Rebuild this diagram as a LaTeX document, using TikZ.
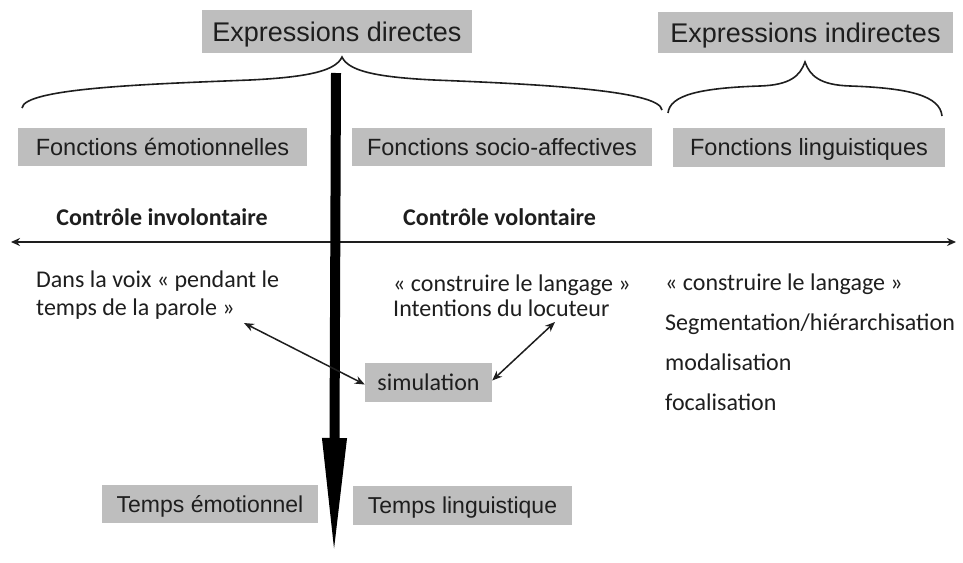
\documentclass[tikz,border=0pt]{standalone}
\usepackage{fontspec}
\setmainfont{Carlito}
\newfontfamily\arialf{Liberation Sans}
\usetikzlibrary{arrows.meta}
\definecolor{boxgray}{RGB}{190,190,190}
\definecolor{txt}{RGB}{30,30,30}
\tikzset{
  graybox/.style={fill=boxgray, draw=none, inner sep=0pt, text=txt, text depth=0pt, text height=16.8pt, font=\arialf\fontsize{23.5}{28}\selectfont},
  bigbox/.style={graybox, text height=19.3pt, font=\arialf\fontsize{27}{32}\selectfont},
  body/.style={inner sep=0pt, anchor=base west, text=txt, font=\fontsize{24}{29}\selectfont},
  boldlbl/.style={inner sep=0pt, anchor=base, text=txt, font=\bfseries\fontsize{24}{29}\selectfont},
  bracepath/.style={line width=1.6pt, draw=txt},
  thinarrow/.style={line width=1.5pt, draw=txt, {Stealth[length=10pt,width=8pt]}-{Stealth[length=10pt,width=8pt]}},
}
\begin{document}
\begin{tikzpicture}[x=1pt,y=-1pt]
\useasboundingbox (0,0) rectangle (963,562);
\fill[white] (0,0) rectangle (963,562);

% top boxes
\node[bigbox, minimum width=270pt, minimum height=43pt] (exdir) at (337,31.5) {Expressions directes};
\node[bigbox, minimum width=295pt, minimum height=41pt] (exind) at (805.5,32.5) {Expressions indirectes};

% braces
\coordinate (b1l) at (22,108);
\coordinate (b1t) at (342,57);
\coordinate (b1r) at (662,110);
\draw[bracepath] (b1l) .. controls (24,88) and (150,84) .. (250,80)
  .. controls (312,77) and (336,70) .. (b1t)
  .. controls (348,70) and (372,77) .. (434,80)
  .. controls (534,84) and (660,90) .. (b1r);
\coordinate (b2l) at (668,113);
\coordinate (b2t) at (805,62);
\coordinate (b2r) at (942,116);
\draw[bracepath] (b2l) .. controls (670,95) and (700,88) .. (760,86)
  .. controls (790,85) and (800,76) .. (b2t)
  .. controls (810,76) and (820,85) .. (850,86)
  .. controls (910,88) and (940,96) .. (b2r);

% function boxes
\node[graybox, minimum width=289pt, minimum height=38pt] (femo) at (162.5,147) {Fonctions émotionnelles};
\node[graybox, minimum width=300pt, minimum height=38pt] (fsoc) at (502,147) {Fonctions socio-affectives};
\node[graybox, minimum width=272pt, minimum height=39pt] (fling) at (809,147.5) {Fonctions linguistiques};

% control labels
\node[boldlbl] (cinv) at (162,225) {Contrôle involontaire};
\node[boldlbl, anchor=base west] (cvol) at (403,225) {Contrôle volontaire};

% horizontal axis
\coordinate (hl) at (11,242);
\coordinate (hr) at (956,242);
\draw[line width=1.8pt, draw=txt, {Stealth[length=9pt,width=8pt]}-{Stealth[length=9pt,width=8pt]}] (hl) -- (hr);

% vertical time arrow
\coordinate (vtop) at (336,73);
\coordinate (vtip) at (334,560);
\draw[line width=10pt, black, -{Triangle[length=122pt,width=22pt]}] (vtop) -- (vtip);

% left texts
\node[body] (d1) at (36,287) {Dans la voix « pendant le};
\node[body] (d2) at (36,315) {temps de la parole »};
% middle texts
\node[body] (m1) at (393,291) {« construire le langage »};
\node[body] (m2) at (393,316) {Intentions du locuteur};
% right texts
\node[body] (r1) at (665,290) {« construire le langage »};
\node[body] (r2) at (665,330) {Segmentation/hiérarchisation};
\node[body] (r3) at (665,370) {modalisation};
\node[body] (r4) at (665,410) {focalisation};

% simulation
\node[graybox, font=\fontsize{24}{29}\selectfont, text height=15pt, minimum width=127pt, minimum height=39pt] (sim) at (428.5,382.5) {simulation};
\coordinate (a1) at (244,323);
\coordinate (a2) at (555,322);
\draw[thinarrow] (a1) -- ([yshift=-2pt]sim.west);
\draw[thinarrow] ([yshift=2pt]sim.east) -- (a2);

% time boxes
\node[graybox, font=\arialf\fontsize{23}{28}\selectfont, text height=16.5pt, minimum width=216pt, minimum height=38pt] (temo) at (210,504) {Temps émotionnel};
\node[graybox, font=\arialf\fontsize{23}{28}\selectfont, text height=16.5pt, minimum width=219pt, minimum height=39pt] (tling) at (462.5,505.5) {Temps linguistique};
\end{tikzpicture}
\end{document}
